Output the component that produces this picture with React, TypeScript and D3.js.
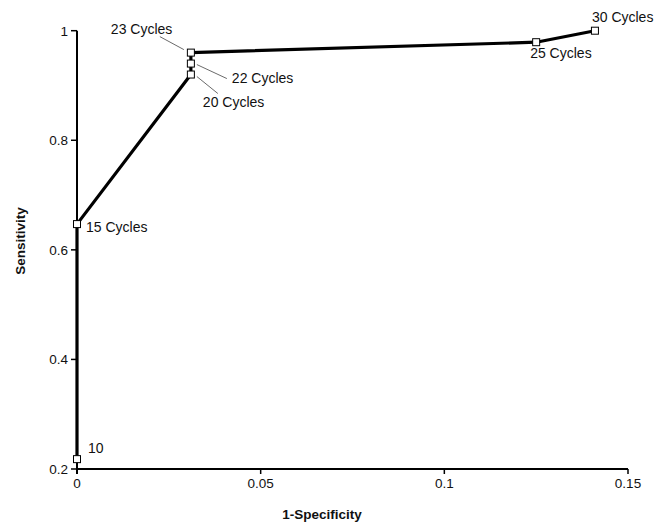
import React from "react";
import * as d3 from "d3";

const cycles = ["10", "15 Cycles", "20 Cycles", "22 Cycles", "23 Cycles", "25 Cycles", "30 Cycles"];
const fpr = [0, 0, 0.031, 0.031, 0.031, 0.125, 0.141];
const sens = [0.218, 0.647, 0.92, 0.94, 0.96, 0.979, 1.0];
const xTicks = [0, 0.05, 0.1, 0.15];
const xTickLabels = ["0", "0.05", "0.1", "0.15"];
const yTicks = [0.2, 0.4, 0.6, 0.8, 1];
const yTickLabels = ["0.2", "0.4", "0.6", "0.8", "1"];

const labelPos: Record<string, { dx: number; dy: number; leader?: [number, number, number, number] }> = {
  "10": { dx: 11, dy: -6 },
  "15 Cycles": { dx: 9, dy: 8 },
  "20 Cycles": { dx: 12, dy: 32, leader: [6, 2, 27, 19] },
  "22 Cycles": { dx: 41, dy: 19, leader: [6, 1, 36, 15] },
  "23 Cycles": { dx: -80, dy: -19, leader: [-7, -3, -31, -16] },
  "25 Cycles": { dx: -6, dy: 16 },
  "30 Cycles": { dx: -3, dy: -9 },
};

export default function App() {
  const W = 655, H = 524;
  const x = d3.scaleLinear().domain([0, 0.15]).range([77, 628]);
  const y = d3.scaleLinear().domain([0.2, 1]).range([469, 30.7]);
  const pts = fpr.map((f, i) => [x(f), y(sens[i])] as [number, number]);
  const line = d3.line()(pts) || "";
  const font = "Arial, 'Liberation Sans', Helvetica, sans-serif";
  return (
    <svg width={W} height={H} style={{ position: "absolute", left: 0, top: 0 }} fontFamily={font}>
      <rect width={W} height={H} fill="#fff" />
      <line x1={x(0)} x2={x(0.15)} y1={y(0.2)} y2={y(0.2)} stroke="#000" strokeWidth={2} />
      <line x1={x(0)} x2={x(0)} y1={y(1)} y2={y(0.2) + 5} stroke="#000" strokeWidth={2} />
      {xTicks.map((t, i) => (
        <g key={"xt" + i}>
          <line x1={x(t)} x2={x(t)} y1={y(0.2)} y2={y(0.2) + 5} stroke="#000" strokeWidth={1.5} />
          <text x={x(t)} y={y(0.2) + 19} textAnchor="middle" fontSize={13.5} fill="#111">{xTickLabels[i]}</text>
        </g>
      ))}
      {yTicks.map((t, i) => (
        <g key={"yt" + i}>
          <line x1={x(0) - 6} x2={x(0)} y1={y(t)} y2={y(t)} stroke="#000" strokeWidth={1.5} />
          <text x={x(0) - 9} y={y(t) + 5} textAnchor="end" fontSize={13.5} fill="#111">{yTickLabels[i]}</text>
        </g>
      ))}
      <path d={line} fill="none" stroke="#000" strokeWidth={3.2} strokeLinejoin="round" />
      {pts.map((p, i) => {
        const lp = labelPos[cycles[i]];
        return (
          <g key={"p" + i}>
            {lp.leader && (
              <line x1={p[0] + lp.leader[0]} y1={p[1] + lp.leader[1]} x2={p[0] + lp.leader[2]} y2={p[1] + lp.leader[3]} stroke="#444" strokeWidth={0.8} />
            )}
            <rect x={p[0] - 3.5} y={p[1] - 3.5} width={7} height={7} fill="#fff" stroke="#000" strokeWidth={1} />
            <text x={p[0] + lp.dx} y={p[1] + lp.dy} fontSize={14} fill="#111">{cycles[i]}</text>
          </g>
        );
      })}
      <text x={322} y={519} textAnchor="middle" fontSize={13.5} fontWeight="bold" fill="#111">1-Specificity</text>
      <text transform="translate(25,241) rotate(-90)" textAnchor="middle" fontSize={13.5} fontWeight="bold" fill="#111">Sensitivity</text>
    </svg>
  );
}
